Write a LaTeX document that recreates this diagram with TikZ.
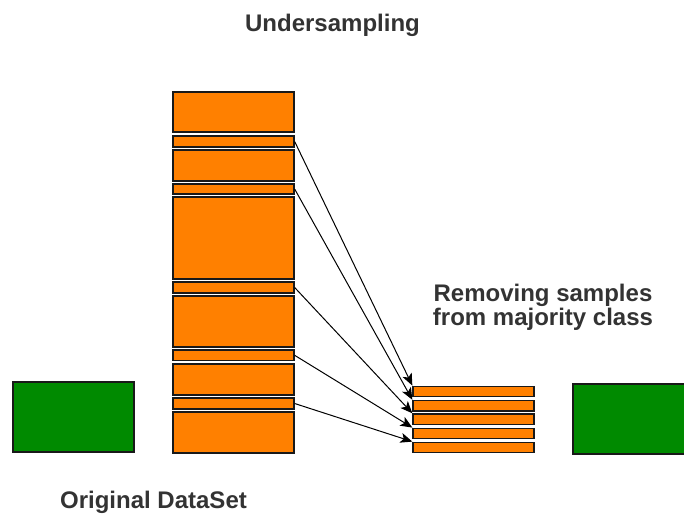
\documentclass[tikz,border=0pt]{standalone}
\usepackage{fontspec}
\setmainfont{Liberation Sans}
\usetikzlibrary{arrows.meta}
\definecolor{orng}{HTML}{FF8000}
\definecolor{grn}{HTML}{008A00}
\definecolor{txt}{HTML}{333333}
\begin{document}
\begin{tikzpicture}[x=1pt,y=-1pt,
  bar/.style={draw=black!90,line width=1.3pt,fill=orng,inner sep=0pt,minimum width=121pt},
  gbox/.style={draw=black!90,line width=1.5pt,fill=grn,inner sep=0pt,minimum width=121pt,minimum height=70pt},
  lbl/.style={font=\fontsize{24}{23.3}\selectfont\bfseries,text=txt,align=center,inner sep=0pt},
  arr/.style={draw=black,line width=1pt,-{Stealth[length=12pt,width=10pt,inset=3pt]}}]
\useasboundingbox (0,0) rectangle (684,518);
% labels
\node[lbl,anchor=base] (tu) at (332.5,32) {Undersampling};
\node[lbl,anchor=base] (tr) at (543,325) {Removing samples\\from majority class};
\node[lbl,anchor=base] (to) at (153.5,508) {Original DataSet};
% green boxes
\node[gbox] (gl) at (73.5,417) {};
\begin{scope}
\clip (0,0) rectangle (684,518);
\node[gbox] (gr) at (633.5,419) {};
\end{scope}
% original column
\node[bar,minimum height=40pt] (b1) at (233.5,112) {};
\node[bar,minimum height=11pt] (b2) at (233.5,141.5) {};
\node[bar,minimum height=31pt] (b3) at (233.5,165.5) {};
\node[bar,minimum height=10pt] (b4) at (233.5,189) {};
\node[bar,minimum height=82pt] (b5) at (233.5,238) {};
\node[bar,minimum height=11pt] (b6) at (233.5,287.5) {};
\node[bar,minimum height=51pt] (b7) at (233.5,321.5) {};
\node[bar,minimum height=10.5pt] (b8) at (233.5,355.3) {};
\node[bar,minimum height=31pt] (b9) at (233.5,379.5) {};
\node[bar,minimum height=11pt] (b10) at (233.5,403.5) {};
\node[bar,minimum height=41pt] (b11) at (233.5,432.5) {};
% selected samples
\node[bar,minimum height=10.5pt] (s1) at (473.5,391.5) {};
\node[bar,minimum height=10.5pt] (s2) at (473.5,405.7) {};
\node[bar,minimum height=10.5pt] (s3) at (473.5,419.2) {};
\node[bar,minimum height=10.5pt] (s4) at (473.5,433.5) {};
\node[bar,minimum height=10.5pt] (s5) at (473.5,447.5) {};
% arrows
\draw[arr] (b2.east) -- (s1.north west);
\draw[arr] (b4.east) -- (s2.north west);
\draw[arr] (b6.east) -- (s3.north west);
\draw[arr] (b8.east) -- (s4.north west);
\draw[arr] (b10.east) -- (s5.north west);
\end{tikzpicture}
\end{document}
